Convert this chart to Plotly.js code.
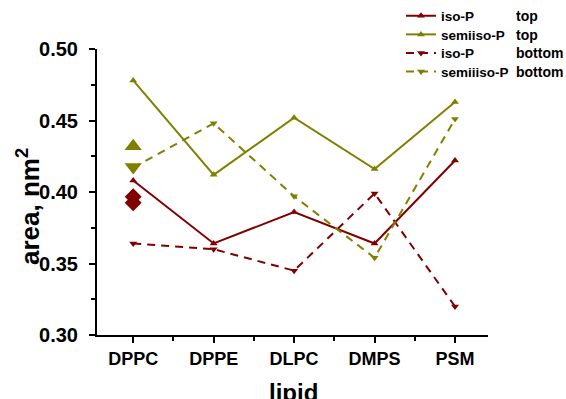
<!DOCTYPE html>
<html>
<head>
<meta charset="utf-8">
<script src="https://cdn.plot.ly/plotly-3.0.1.min.js"></script>
<style>html,body{margin:0;padding:0;background:#fff;}#chart{width:566px;height:399px;}</style>
</head>
<body>
<div id="chart"></div>
<script>
// ---- data ----
const categories = ['DPPC', 'DPPE', 'DLPC', 'DMPS', 'PSM'];
const isoTop = [0.408, 0.364, 0.386, 0.364, 0.422];
const semiisoTop = [0.478, 0.412, 0.452, 0.416, 0.463];
const isoBottom = [0.364, 0.360, 0.345, 0.399, 0.320];
const semiisoBottom = [0.417, 0.448, 0.397, 0.354, 0.451];
// reference values drawn as large markers at DPPC
const refLipid = ['DPPC'];
const refSemiisoUp = [0.432];
const refSemiisoDown = [0.4175];
const refIsoDiamond = [0.3967, 0.3925];
const yTicks = [0.30, 0.35, 0.40, 0.45, 0.50];
const yTickText = ['0.30', '0.35', '0.40', '0.45', '0.50'];
const legendSide = ['top', 'top', 'bottom', 'bottom'];

const RED = '#800000';
const OLIVE = '#808000';
const FONT = 'Liberation Sans, Arial, sans-serif';
const idx = c => categories.indexOf(c);
const xs = categories.map((c, i) => i);

const traces = [
  {x: xs, y: isoTop, name: 'iso-P', mode: 'lines+markers', legend: 'legend',
   line: {color: RED, width: 2}, marker: {symbol: 'triangle-up', size: 7, color: RED}},
  {x: xs, y: semiisoTop, name: 'semiiso-P', mode: 'lines+markers', legend: 'legend2',
   line: {color: OLIVE, width: 2}, marker: {symbol: 'triangle-up', size: 7, color: OLIVE}},
  {x: xs, y: isoBottom, name: 'iso-P', mode: 'lines+markers', legend: 'legend3',
   line: {color: RED, width: 2, dash: '8px,6px'}, marker: {symbol: 'triangle-down', size: 7, color: RED}},
  {x: xs, y: semiisoBottom, name: 'semiiiso-P', mode: 'lines+markers', legend: 'legend4',
   line: {color: OLIVE, width: 2, dash: '8px,6px'}, marker: {symbol: 'triangle-down', size: 7, color: OLIVE}},
  {x: refLipid.map(idx), y: refSemiisoUp, mode: 'markers', showlegend: false,
   marker: {symbol: 'triangle-up', size: 15, color: OLIVE}},
  {x: refLipid.map(idx), y: refSemiisoDown, mode: 'markers', showlegend: false,
   marker: {symbol: 'triangle-down', size: 15, color: OLIVE}},
  {x: refIsoDiamond.map(() => idx('DPPC')), y: refIsoDiamond, mode: 'markers', showlegend: false,
   marker: {symbol: 'diamond', size: 13, color: RED}}
];

const L = 97, T = 49, W = 566, H = 399, B = 64, R = 78;
const pw = W - L - R, ph = H - T - B;
const px2x = p => (p - L) / pw;
const px2y = p => (H - B - p) / ph;
const rowY = i => 16 + i * 18.6;

const legFont = {family: FONT, size: 13.5, color: '#000', weight: 'bold'};
const annotations = legendSide.map((s, i) => ({
  text: s, xref: 'paper', yref: 'paper', x: px2x(514), y: px2y(rowY(i)),
  xanchor: 'left', yanchor: 'middle', showarrow: false,
  font: {family: FONT, size: 14, color: '#000', weight: 'bold'}
}));
annotations.push({
  text: 'area, nm<sup>2</sup>', xref: 'paper', yref: 'paper', x: px2x(28), y: px2y(207),
  xanchor: 'center', yanchor: 'middle', textangle: -90, showarrow: false,
  font: {family: FONT, size: 26, color: '#000', weight: 'bold'}
});
annotations.push({
  text: 'lipid', xref: 'paper', yref: 'paper', x: px2x(293), y: px2y(377),
  xanchor: 'center', yanchor: 'top', showarrow: false,
  font: {family: FONT, size: 24, color: '#000', weight: 'bold'}
});

const mkLegend = i => ({x: px2x(401), y: px2y(rowY(i)), xanchor: 'left', yanchor: 'middle',
  bgcolor: 'rgba(0,0,0,0)', itemwidth: 30, font: legFont});

const layout = {
  width: W, height: H,
  margin: {l: L, r: R, t: T, b: B, pad: 0, autoexpand: false},
  paper_bgcolor: '#fff', plot_bgcolor: '#fff',
  font: {family: FONT, color: '#000'},
  showlegend: true,
  legend: mkLegend(0), legend2: mkLegend(1), legend3: mkLegend(2), legend4: mkLegend(3),
  xaxis: {
    range: [-0.45, 4.41], tickmode: 'array', tickvals: xs, ticktext: categories,
    showgrid: false, zeroline: false, showline: true, linecolor: '#000', linewidth: 2,
    ticks: 'outside', ticklen: 6, tickwidth: 2, tickcolor: '#000',
    minor: {ticks: 'outside', ticklen: 4, tickwidth: 2, tickcolor: '#000', dtick: 0.5, tick0: 0.5, showgrid: false},
    tickfont: {family: FONT, size: 18, color: '#000', weight: 'bold'},
    automargin: false, fixedrange: true
  },
  yaxis: {
    range: [0.30, 0.50], tickmode: 'array', tickvals: yTicks, ticktext: yTickText,
    showgrid: false, zeroline: false, showline: true, linecolor: '#000', linewidth: 2,
    ticks: 'outside', ticklen: 6, tickwidth: 2, tickcolor: '#000',
    minor: {ticks: 'outside', ticklen: 4, tickwidth: 2, tickcolor: '#000', dtick: 0.025, tick0: 0.3, showgrid: false},
    tickfont: {family: FONT, size: 20, color: '#000', weight: 'bold'},
    ticklabelstandoff: 7,
    automargin: false, fixedrange: true
  },
  annotations: annotations
};

Plotly.newPlot('chart', traces, layout, {displayModeBar: false, staticPlot: true});
</script>
</body>
</html>
